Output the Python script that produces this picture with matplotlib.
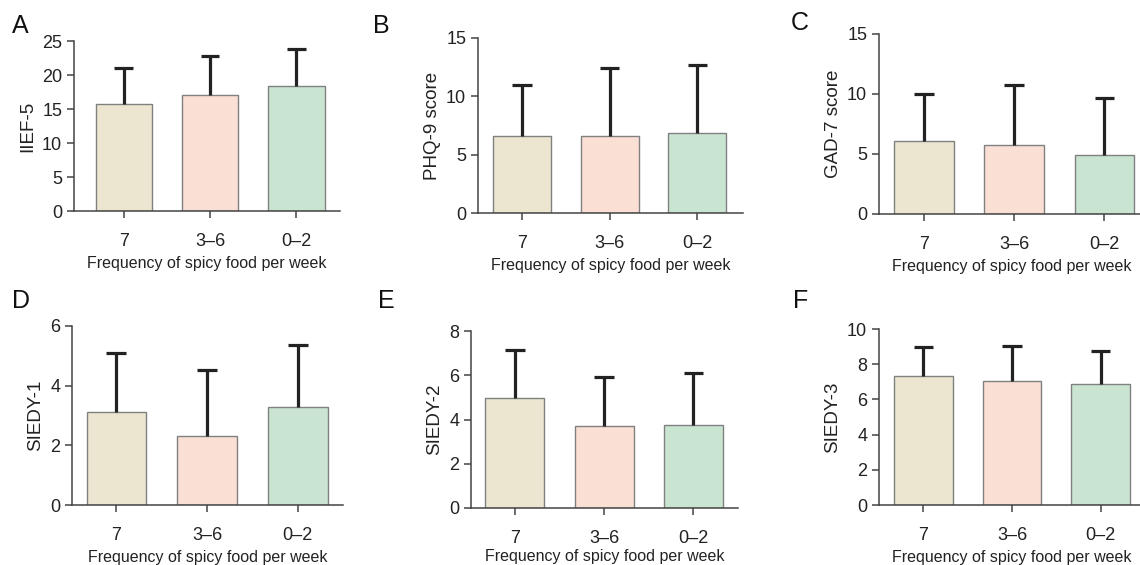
import numpy as np
import matplotlib
matplotlib.use("Agg")
import matplotlib.pyplot as plt

plt.rcParams['font.family'] = ['Liberation Sans', 'DejaVu Sans']

# groups: spicy food per week
groups = ["7", "3\u20136", "0\u20132"]
bar_colors = ["#ece6d0", "#fadfd5", "#c9e5d2"]

# mean and upper error (mean + SD)
iief_mean = [15.7, 17.0, 18.4]
iief_top = [21.0, 22.85, 23.8]
phq_mean = [6.6, 6.6, 6.9]
phq_top = [11.0, 12.45, 12.7]
gad_mean = [6.05, 5.75, 4.95]
gad_top = [10.0, 10.75, 9.7]
siedy1_mean = [3.12, 2.3, 3.27]
siedy1_top = [5.1, 4.52, 5.35]
siedy2_mean = [4.95, 3.72, 3.75]
siedy2_top = [7.12, 5.93, 6.12]
siedy3_mean = [7.32, 7.07, 6.85]
siedy3_top = [8.97, 9.05, 8.73]

letters = ["A", "B", "C", "D", "E", "F"]
ylabels = ["IIEF-5", "PHQ-9 score", "GAD-7 score", "SIEDY-1", "SIEDY-2", "SIEDY-3"]
means = [iief_mean, phq_mean, gad_mean, siedy1_mean, siedy2_mean, siedy3_mean]
tops = [iief_top, phq_top, gad_top, siedy1_top, siedy2_top, siedy3_top]
yticks = [[0, 5, 10, 15, 20, 25], [0, 5, 10, 15], [0, 5, 10, 15],
          [0, 2, 4, 6], [0, 2, 4, 6, 8], [0, 2, 4, 6, 8, 10]]

W, H = 1140, 565
# axes boxes in pixels: left, right, top, bottom, and x-limits
boxes = [(74, 340, 41, 211, -0.58, 2.51),
         (478, 743, 38, 213, -0.5, 2.52),
         (879, 1145, 34, 214, -0.5, 2.45),
         (72, 343, 326, 505, -0.49, 2.5),
         (471, 738, 331, 508, -0.49, 2.5),
         (879, 1145, 329, 505, -0.5, 2.5)]
xlabel_pads = [4, 4, 4, 4, 1, 4]
letter_pos = [(12, 33), (373, 33), (791, 30), (12, 308), (378, 308), (793, 308)]

fig = plt.figure(figsize=(W / 100, H / 100), dpi=100)

for i in range(6):
    l, r, t, b, x0, x1 = boxes[i]
    ax = fig.add_axes([l / W, 1 - b / H, (r - l) / W, (b - t) / H])
    x = np.arange(len(groups))
    m = np.array(means[i])
    top = np.array(tops[i])
    ax.bar(x, m, width=0.66, color=bar_colors, edgecolor="#808080", linewidth=1.0, zorder=2)
    # upper-only error bars
    ax.vlines(x, m, top, color="#222222", linewidth=2.3, zorder=3)
    ax.hlines(top, x - 0.11, x + 0.11, color="#222222", linewidth=2.3, zorder=3)
    ax.set_xlim(x0, x1)
    ax.set_ylim(0, yticks[i][-1])
    ax.set_yticks(yticks[i])
    ax.set_xticks(x)
    ax.set_xticklabels(groups)
    ax.spines['top'].set_visible(False)
    ax.spines['right'].set_visible(False)
    for s in ['left', 'bottom']:
        ax.spines[s].set_color("#444444")
        ax.spines[s].set_linewidth(1.1)
    ax.tick_params(axis='both', colors="#444444", length=5, width=1.1, labelsize=13,
                   labelcolor="#222222")
    ax.tick_params(axis='x', pad=11)
    ax.set_ylabel(ylabels[i], fontsize=13.5, color="#222222")
    ax.set_xlabel("Frequency of spicy food per week", fontsize=11.5, color="#222222",
                  labelpad=xlabel_pads[i])
    fig.text(letter_pos[i][0] / W, 1 - letter_pos[i][1] / H, letters[i], fontsize=18,
             color="#111111", ha="left", va="baseline")

fig.savefig("out.png", dpi=100)
